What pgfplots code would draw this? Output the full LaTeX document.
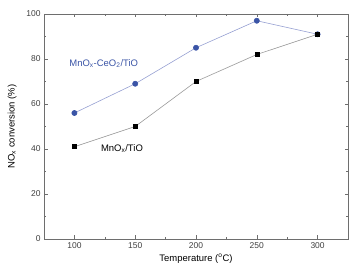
\documentclass[border=0pt]{standalone}
\usepackage{fontspec}
\setmainfont{Liberation Sans}
\usepackage{pgfplots}
\pgfplotsset{compat=1.18}
\definecolor{ceblue}{RGB}{58,84,166}
\definecolor{lineblue}{RGB}{150,160,210}
\definecolor{framegray}{RGB}{110,110,110}
\begin{document}
\begin{tikzpicture}
\begin{axis}[
  at={(0,0)}, anchor=south west,
  scale only axis,
  width=304bp, height=225bp,
  xmin=75, xmax=325, ymin=0, ymax=100,
  xtick={100,150,200,250,300},
  minor xtick={75,125,175,225,275,325},
  ytick={0,20,40,60,80,100},
  minor ytick={10,30,50,70,90},
  tick align=inside,
  major tick length=3.5bp, minor tick length=2bp,
  axis line style={framegray, line width=0.8pt},
  every tick/.style={framegray, line width=0.6pt},
  tick label style={font=\fontsize{8.5}{9}\selectfont, text=black!75},
  /pgf/number format/assume math mode=true,
  xlabel={Temperature (\textsuperscript{o}C)},
  ylabel={NO\textsubscript{x} conversion (\%)},
  xlabel style={font=\fontsize{9.5}{10}\selectfont, yshift=1bp},
  ylabel style={font=\fontsize{9.5}{10}\selectfont, yshift=3bp},
  clip=false,
]
\addplot[lineblue, line width=0.6pt, mark=*, mark size=2.6bp,
  mark options={fill=ceblue, draw=ceblue}]
  coordinates {(100,56) (150,69) (200,85) (250,97) (300,91)};
\addplot[black!40, line width=0.6pt, mark=square*, mark size=2.0bp,
  mark options={fill=black, draw=black}]
  coordinates {(100,41) (150,50) (200,70) (250,82) (300,91)};
\node[anchor=west, text=ceblue, font=\fontsize{9.5}{10}\selectfont]
  at (axis cs:93,78) {MnO\textsubscript{x}-CeO\textsubscript{2}/TiO};
\node[anchor=west, text=black, font=\fontsize{9.5}{10}\selectfont]
  at (axis cs:119,40) {MnO\textsubscript{x}/TiO};
\end{axis}
\useasboundingbox (-44bp,-32bp) rectangle (306bp,239bp);
\end{tikzpicture}
\end{document}
